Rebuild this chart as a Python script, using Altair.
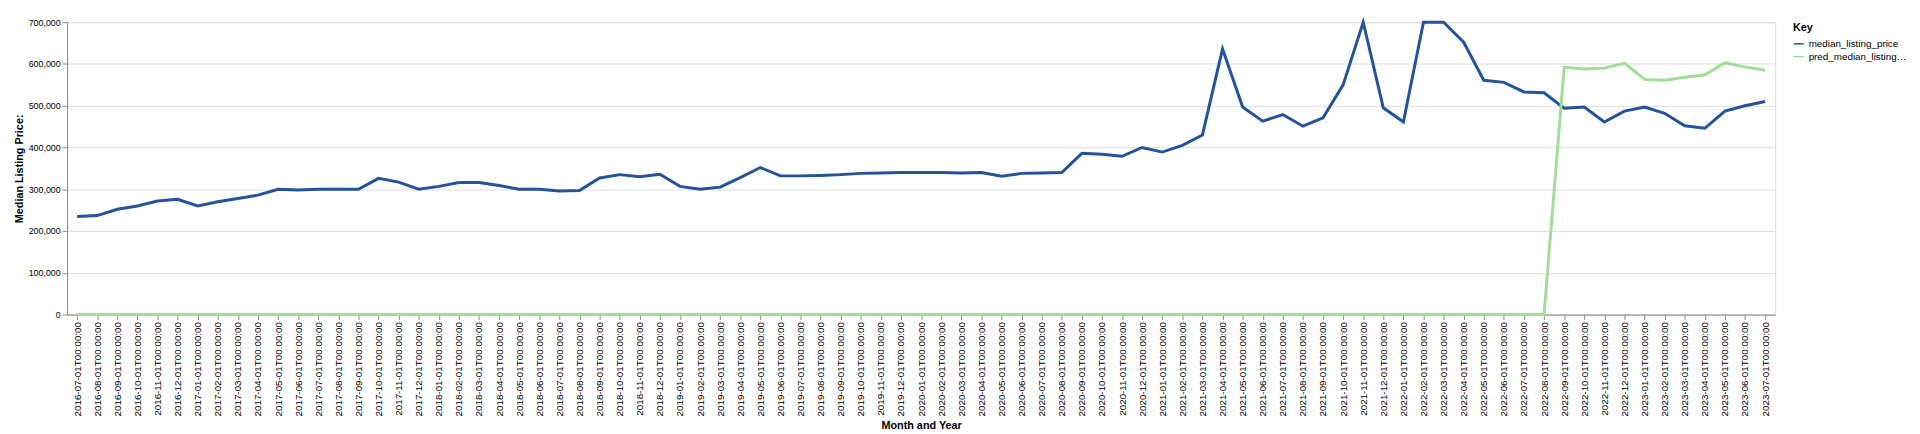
import altair as alt
import pandas as pd

months = pd.date_range("2016-07-01", "2023-07-01", freq="MS").strftime("%Y-%m-%dT%H:%M:%S").tolist()

median_listing_price = [
    235000, 237000, 252000, 260000, 272000, 276000,
    260000, 270000, 278000, 286000, 300000, 298000, 300000, 300000, 300000, 326000, 317000, 300000,
    307000, 316000, 316000, 309000, 300000, 300000, 296000, 297000, 327000, 335000, 330000, 336000,
    307000, 300000, 305000, 328000, 352000, 332000, 332000, 333000, 335000, 338000, 339000, 340000,
    340000, 340000, 339000, 340000, 331000, 338000, 339000, 340000, 386000, 384000, 379000, 400000,
    389000, 405000, 430000, 636000, 497000, 463000, 479000, 451000, 471000, 550000, 700000, 495000,
    461000, 700000, 700000, 652000, 561000, 556000, 533000, 531000, 494000, 497000, 461000, 487000,
    497000, 482000, 452000, 446000, 487000, 500000, 510000,
]

pred_median_listing_price = [0] * 74 + [
    592000, 588000, 590000, 602000, 563000, 561000, 568000, 574000, 603000, 593000, 585000,
]

df = pd.DataFrame({
    "month": months,
    "median_listing_price": median_listing_price,
    "pred_median_listing_price": pred_median_listing_price,
})

chart = alt.Chart(df).transform_fold(
    ["median_listing_price", "pred_median_listing_price"], as_=["Key", "value"]
).mark_line(strokeWidth=3).encode(
    x=alt.X("month:O", title="Month and Year", axis=alt.Axis(labelAngle=-90)),
    y=alt.Y("value:Q", title="Median Listing Price:", scale=alt.Scale(domain=[0, 700000]),
            axis=alt.Axis(labelFontSize=9)),
    color=alt.Color("Key:N", scale=alt.Scale(
        domain=["median_listing_price", "pred_median_listing_price"],
        range=["#24529b", "#a1dd96"]),
        legend=alt.Legend(labelLimit=100)),
).properties(width=1735, height=297)

chart.save("out.html", embed_options={"renderer": "svg", "actions": False})
